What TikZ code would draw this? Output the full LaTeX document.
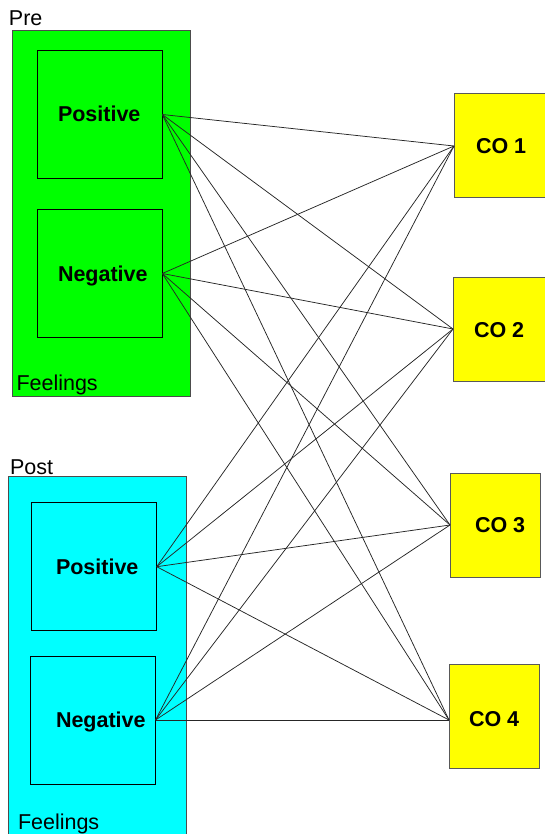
\documentclass[tikz,border=0pt]{standalone}
\usepackage{fontspec}
\setmainfont{Liberation Sans}
\definecolor{preGreen}{RGB}{0,255,0}
\definecolor{postCyan}{RGB}{0,255,255}
\definecolor{coYellow}{RGB}{255,255,0}
\begin{document}
\begin{tikzpicture}[x=1pt,y=-1pt,
  every node/.style={inner sep=0pt,outer sep=0pt},
  groupbox/.style={rectangle,draw=black!70,line width=0.9pt,anchor=north west},
  feelbox/.style={rectangle,draw=black,line width=0.8pt,anchor=north west,
    minimum width=125pt,minimum height=128pt},
  cobox/.style={rectangle,draw=black!65,fill=coYellow,line width=1pt,anchor=north west,
    minimum width=90pt,minimum height=104pt},
  plain/.style={font=\fontsize{21.5}{24}\selectfont,anchor=base west},
  bold/.style={font=\fontsize{21.5}{24}\selectfont\bfseries,anchor=base west},
  link/.style={draw=black!85,line width=0.75pt}]
\useasboundingbox (0,0) rectangle (544,834);

% feeling groups
\node[groupbox,fill=preGreen,minimum width=178pt,minimum height=366pt] (pre) at (12,30.5) {};
\node[groupbox,fill=postCyan,minimum width=178pt,minimum height=372pt] (post) at (8.5,476) {};
\node[plain] (preLbl) at (9,26) {Pre};
\node[plain] (postLbl) at (10,474) {Post};
\node[plain] (preFeel) at (16.5,390) {Feelings};
\node[plain] (postFeel) at (18,829) {Feelings};

% feeling boxes
\node[feelbox] (prePos) at (37.3,50.5) {};
\node[feelbox] (preNeg) at (37.3,209.5) {};
\node[feelbox] (postPos) at (31.7,502.7) {};
\node[feelbox] (postNeg) at (30.5,656) {};
\node[bold] (prePosTxt) at (58,122) {Positive};
\node[bold] (preNegTxt) at (58,281) {Negative};
\node[bold] (postPosTxt) at (56,574) {Positive};
\node[bold] (postNegTxt) at (56,727.5) {Negative};

% course outcome boxes
\node[cobox,minimum width=92pt] (co1) at (454,94) {};
\node[cobox,minimum width=92pt] (co2) at (453,277) {};
\node[cobox] (co3) at (450,473) {};
\node[cobox] (co4) at (449,664) {};
\node[bold] (co1Txt) at (476,154) {CO 1};
\node[bold] (co2Txt) at (474,337) {CO 2};
\node[bold] (co3Txt) at (475,532) {CO 3};
\node[bold] (co4Txt) at (469,726) {CO 4};
\coordinate (co4in) at (449,720);

% every feeling linked to every outcome
\foreach \f in {prePos,preNeg,postPos,postNeg}{
  \draw[link] (\f.east) -- (co1.west);
  \draw[link] (\f.east) -- (co2.west);
  \draw[link] (\f.east) -- (co3.west);
  \draw[link] (\f.east) -- (co4in);
}
\end{tikzpicture}
\end{document}
